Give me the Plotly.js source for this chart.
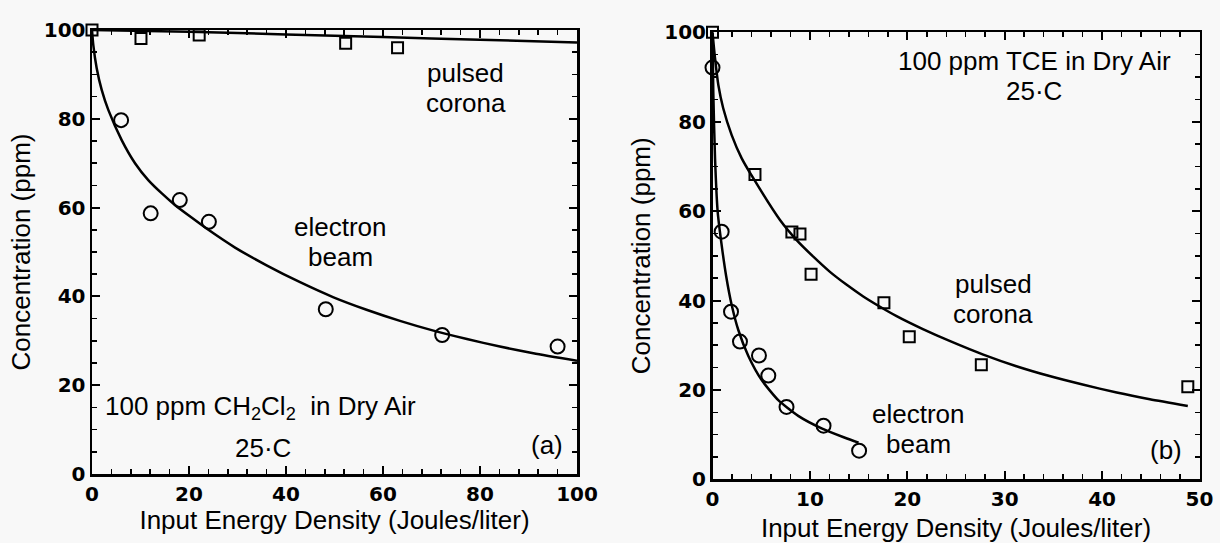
<!DOCTYPE html>
<html>
<head>
<meta charset="utf-8">
<script src="https://cdn.plot.ly/plotly-3.0.1.min.js"></script>
<style>
  html, body { margin: 0; padding: 0; background: #f8f8f8; }
  #chart { width: 1220px; height: 543px; }
</style>
</head>
<body>
<div id="chart"></div>
<script>
// ---------- Panel (a): 100 ppm CH2Cl2 in Dry Air ----------
var aBeamX = [6.0, 12.1, 18.1, 24.1, 48.2, 72.2, 96.0];
var aBeamY = [79.7, 58.7, 61.7, 56.8, 37.1, 31.3, 28.7];
var aCoronaX = [0, 10.1, 22.1, 52.3, 63.0];
var aCoronaY = [100, 98.1, 98.9, 97.0, 96.0];
var aBeamFitX = [0, 0.27, 0.97, 2.0, 3.36, 6.12, 8.87, 11.6, 14.4, 17.1, 20.6, 24.0, 29.5, 36.0, 42.9, 49.8, 56.6, 63.5, 70.4, 77.3, 84.1, 91.0, 100];
var aBeamFitY = [100, 96.6, 91.4, 86.5, 82.0, 75.2, 70.0, 66.2, 63.2, 60.6, 57.7, 55.0, 51.0, 47.0, 43.2, 39.8, 37.0, 34.5, 32.3, 30.4, 28.7, 27.2, 25.5];
var aCoronaFitX = [0, 20, 40, 60, 80, 100];
var aCoronaFitY = [100, 99.6, 99.0, 98.4, 97.8, 97.2];

// ---------- Panel (b): 100 ppm TCE in Dry Air ----------
var bBeamX = [0, 0.94, 1.9, 2.82, 4.77, 5.73, 7.6, 11.4, 15.05];
var bBeamY = [92.1, 55.4, 37.5, 30.8, 27.7, 23.2, 16.2, 12.0, 6.4];
var bCoronaX = [0, 4.36, 8.15, 8.98, 10.12, 17.6, 20.2, 27.6, 48.8];
var bCoronaY = [100, 68.2, 55.3, 54.9, 45.9, 39.5, 31.9, 25.6, 20.7];
var bBeamFitX = [0, 0.08, 0.26, 0.53, 0.94, 1.40, 1.97, 2.65, 3.68, 5.05, 6.75, 8.8, 11.2, 13.6, 15.0];
var bBeamFitY = [100, 86.7, 71.8, 59.9, 52.4, 45.5, 39.0, 33.4, 27.6, 22.2, 17.7, 14.2, 11.4, 9.3, 8.2];
var bCoronaFitX = [0, 0.26, 0.6, 1.1, 1.97, 3.0, 4.2, 6.93, 8.64, 10.35, 12.06, 13.78, 15.48, 17.2, 18.9, 21.6, 24.4, 27.8, 31.2, 34.6, 38.0, 41.5, 44.9, 48.8];
var bCoronaFitY = [100, 94.2, 88.2, 83.0, 77.0, 71.8, 67.3, 58.0, 53.5, 49.8, 46.4, 43.5, 40.9, 38.6, 36.5, 33.6, 30.9, 27.9, 25.3, 23.1, 21.2, 19.4, 17.9, 16.4];

// ---------- Tick labels ----------
var aXTicks = [0, 20, 40, 60, 80, 100];
var bXTicks = [0, 10, 20, 30, 40, 50];
var yTicks = [0, 20, 40, 60, 80, 100];

var xTitle = 'Input Energy Density (Joules/liter)';
var yTitle = 'Concentration (ppm)';

var lineStyle = {color: '#000', width: 2.5, shape: 'spline', smoothing: 0.6};
var sqMarker = {symbol: 'square-open', size: 11, color: '#000', line: {width: 2, color: '#000'}};
var ciMarker = {symbol: 'circle-open', size: 14, color: '#000', line: {width: 2, color: '#000'}};

var traces = [
  {x: aBeamFitX, y: aBeamFitY, mode: 'lines', line: lineStyle, xaxis: 'x', yaxis: 'y', name: 'electron beam fit'},
  {x: aCoronaFitX, y: aCoronaFitY, mode: 'lines', line: lineStyle, xaxis: 'x', yaxis: 'y', name: 'pulsed corona fit'},
  {x: aBeamX, y: aBeamY, mode: 'markers', marker: ciMarker, xaxis: 'x', yaxis: 'y', cliponaxis: false, name: 'electron beam'},
  {x: aCoronaX, y: aCoronaY, mode: 'markers', marker: sqMarker, xaxis: 'x', yaxis: 'y', cliponaxis: false, name: 'pulsed corona'},
  {x: bBeamFitX, y: bBeamFitY, mode: 'lines', line: lineStyle, xaxis: 'x2', yaxis: 'y2', name: 'electron beam fit'},
  {x: bCoronaFitX, y: bCoronaFitY, mode: 'lines', line: lineStyle, xaxis: 'x2', yaxis: 'y2', name: 'pulsed corona fit'},
  {x: bBeamX, y: bBeamY, mode: 'markers', marker: ciMarker, xaxis: 'x2', yaxis: 'y2', cliponaxis: false, name: 'electron beam'},
  {x: bCoronaX, y: bCoronaY, mode: 'markers', marker: sqMarker, xaxis: 'x2', yaxis: 'y2', cliponaxis: false, name: 'pulsed corona'}
];

var tickFont = {family: 'DejaVu Sans', size: 20, color: '#000', weight: 700};
var titleFont = {family: 'Liberation Sans, Arial, sans-serif', size: 26, color: '#000'};
var annFont = {family: 'Liberation Sans, Arial, sans-serif', size: 26, color: '#000'};

function axis(extra) {
  var base = {
    showline: true, linecolor: '#000', linewidth: 2.5, mirror: 'allticks',
    ticks: 'inside', ticklen: 8, tickwidth: 2, tickcolor: '#000',
    showgrid: false, zeroline: false, tickfont: tickFont,
    ticklabelstandoff: 0, fixedrange: true
  };
  for (var k in extra) base[k] = extra[k];
  return base;
}

function ann(xr, yr, x, y, text, xanchor) {
  return {xref: xr, yref: yr, x: x, y: y, text: text, showarrow: false, font: annFont,
          xanchor: xanchor || 'center', yanchor: 'middle'};
}

var W = 1220, H = 543;
var layout = {
  width: W, height: H, autosize: false,
  margin: {l: 0, r: 0, t: 0, b: 0},
  paper_bgcolor: '#f8f8f8', plot_bgcolor: '#f8f8f8',
  showlegend: false,
  xaxis: axis({domain: [92 / W, 577 / W], range: [0, 100], tickvals: aXTicks, anchor: 'y',
    minor: {dtick: 4, ticks: 'inside', ticklen: 5, tickwidth: 1.5, tickcolor: '#000'},
    title: {text: xTitle, font: titleFont, standoff: 6}}),
  yaxis: axis({domain: [1 - 474 / H, 1 - 30 / H], range: [0, 100], tickvals: yTicks, anchor: 'x',
    minor: {dtick: 5, ticks: 'inside', ticklen: 5, tickwidth: 1.5, tickcolor: '#000'},
    title: {text: yTitle, font: titleFont, standoff: 6}}),
  xaxis2: axis({domain: [712.5 / W, 1199.5 / W], range: [0, 50], tickvals: bXTicks, anchor: 'y2',
    minor: {dtick: 2, ticks: 'inside', ticklen: 5, tickwidth: 1.5, tickcolor: '#000'},
    title: {text: xTitle, font: titleFont, standoff: 12}}),
  yaxis2: axis({domain: [1 - 479.3 / H, 1 - 32.3 / H], range: [0, 100], tickvals: yTicks, anchor: 'x2',
    minor: {dtick: 5, ticks: 'inside', ticklen: 5, tickwidth: 1.5, tickcolor: '#000'},
    title: {text: yTitle, font: titleFont, standoff: 6}}),
  annotations: [
    ann('x', 'y', 77.1, 90.3, 'pulsed'),
    ann('x', 'y', 77.1, 83.5, 'corona'),
    ann('x', 'y', 51.3, 55.6, 'electron'),
    ann('x', 'y', 51.3, 48.8, 'beam'),
    ann('x', 'y', 2.3, 14.9, '100 ppm CH<sub>2</sub>Cl<sub>2</sub>  in Dry Air', 'left'),
    ann('x', 'y', 35.2, 5.8, '25·C'),
    ann('x', 'y', 93.9, 6.5, '(a)'),
    ann('x2', 'y2', 33.1, 93.6, '100 ppm TCE in Dry Air'),
    ann('x2', 'y2', 33.0, 86.8, '25·C'),
    ann('x2', 'y2', 28.8, 43.7, 'pulsed'),
    ann('x2', 'y2', 28.8, 36.9, 'corona'),
    ann('x2', 'y2', 21.2, 14.7, 'electron'),
    ann('x2', 'y2', 21.2, 8.0, 'beam'),
    ann('x2', 'y2', 46.6, 6.6, '(b)')
  ]
};

Plotly.newPlot('chart', traces, layout, {displayModeBar: false, staticPlot: true});
</script>
</body>
</html>
